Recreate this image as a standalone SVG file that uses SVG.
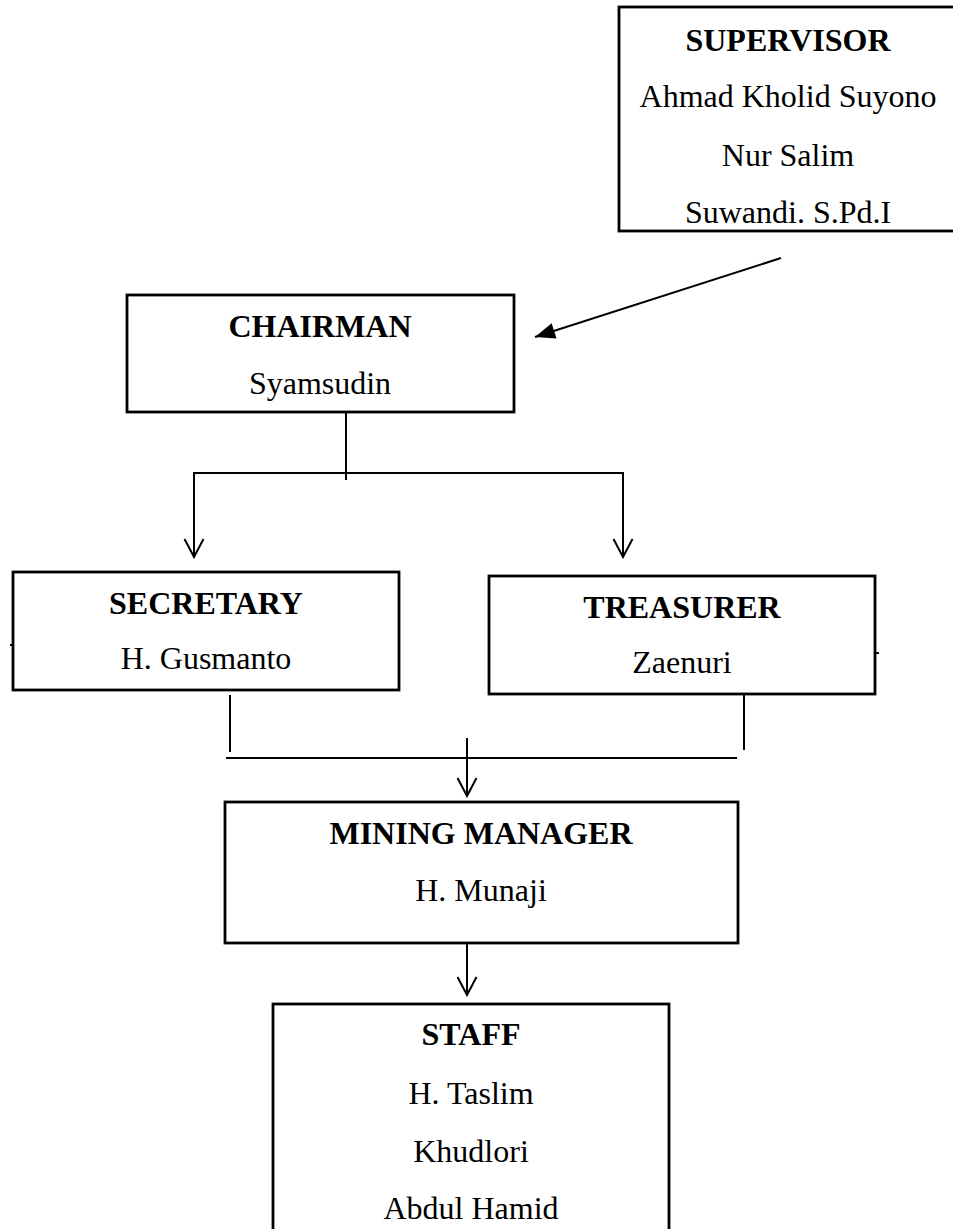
<svg xmlns="http://www.w3.org/2000/svg" width="953" height="1229" viewBox="0 0 953 1229">
<style>
.box{fill:#fff;stroke:#000;stroke-width:2.8}
.t{font-family:"Liberation Serif","Times New Roman",serif;font-size:32px;fill:#000;text-anchor:middle}
.b{font-weight:bold}
.c{fill:none;stroke:#000;stroke-width:2}
</style>
<defs>
<marker id="open" markerUnits="userSpaceOnUse" viewBox="-20 -12 22 24" markerWidth="22" markerHeight="24" refX="0" refY="0" orient="auto">
<path d="M-18,-9.5 L0,0 L-18,9.5" fill="none" stroke="#000" stroke-width="2"/>
</marker>
<marker id="solid" markerUnits="userSpaceOnUse" viewBox="-22 -11 24 22" markerWidth="24" markerHeight="22" refX="0" refY="0" orient="auto">
<path d="M0,0 L-20,-8 L-20,8 Z" fill="#000"/>
</marker>
</defs>
<rect width="953" height="1229" fill="#fff"/>
<g id="connectors">
<line class="c" x1="781" y1="258" x2="535" y2="337" marker-end="url(#solid)"/>
<line class="c" x1="346" y1="412" x2="346" y2="480"/>
<line class="c" x1="193" y1="473" x2="623" y2="473"/>
<line class="c" x1="194" y1="472" x2="194" y2="557" marker-end="url(#open)"/>
<line class="c" x1="623" y1="472" x2="623" y2="557" marker-end="url(#open)"/>
<line class="c" x1="230" y1="695" x2="230" y2="752"/>
<line class="c" x1="744" y1="695" x2="744" y2="750"/>
<line class="c" x1="226" y1="758" x2="737" y2="758"/>
<line class="c" x1="467" y1="738" x2="467" y2="796" marker-end="url(#open)"/>
<line class="c" x1="467" y1="943" x2="467" y2="995" marker-end="url(#open)"/>
<line class="c" x1="10" y1="645" x2="13" y2="645"/>
<line class="c" x1="875" y1="653" x2="879" y2="653"/>
</g>
<g id="supervisor">
<rect class="box" x="619" y="7" width="340" height="224"/>
<text class="t b" x="788" y="51">SUPERVISOR</text>
<text class="t" x="788" y="107">Ahmad Kholid Suyono</text>
<text class="t" x="788" y="166">Nur Salim</text>
<text class="t" x="788" y="223">Suwandi. S.Pd.I</text>
</g>
<g id="chairman">
<rect class="box" x="127" y="295" width="387" height="117"/>
<text class="t b" x="320" y="337">CHAIRMAN</text>
<text class="t" x="320" y="394">Syamsudin</text>
</g>
<g id="secretary">
<rect class="box" x="13" y="572" width="386" height="118"/>
<text class="t b" x="206" y="614">SECRETARY</text>
<text class="t" x="206" y="669">H. Gusmanto</text>
</g>
<g id="treasurer">
<rect class="box" x="489" y="576" width="386" height="118"/>
<text class="t b" x="682" y="618">TREASURER</text>
<text class="t" x="682" y="673">Zaenuri</text>
</g>
<g id="mining-manager">
<rect class="box" x="225" y="802" width="513" height="141"/>
<text class="t b" x="481" y="844">MINING MANAGER</text>
<text class="t" x="481" y="901">H. Munaji</text>
</g>
<g id="staff">
<rect class="box" x="273" y="1004" width="396" height="240"/>
<text class="t b" x="471" y="1045">STAFF</text>
<text class="t" x="471" y="1104">H. Taslim</text>
<text class="t" x="471" y="1162">Khudlori</text>
<text class="t" x="471" y="1219">Abdul Hamid</text>
</g>
</svg>
